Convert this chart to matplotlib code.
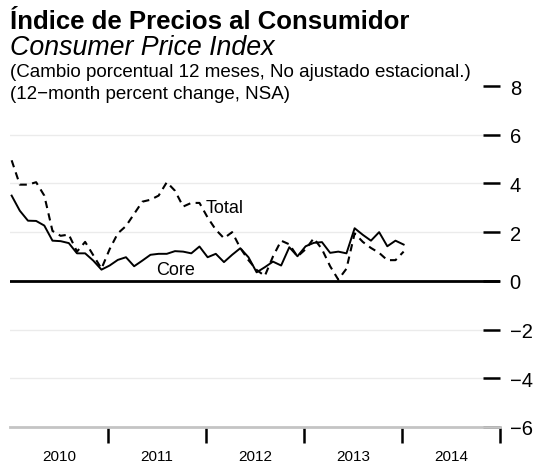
import numpy as np
import matplotlib.pyplot as plt

plt.rcParams['font.family'] = ['Liberation Sans', 'DejaVu Sans']

# monthly 12-month % change, Jan 2010 .. Jan 2014
start_year = 2010
core = [3.5, 2.88, 2.47, 2.46, 2.27, 1.65, 1.63, 1.55, 1.13, 1.13,
        0.83, 0.46, 0.63, 0.86, 0.97, 0.60, 0.83, 1.07, 1.11, 1.11,
        1.22, 1.20, 1.13, 1.41, 0.97, 1.11, 0.77, 1.07, 1.34, 0.97,
        0.35, 0.56, 0.79, 0.63, 1.38, 1.01, 1.42, 1.56, 1.59, 1.15,
        1.20, 1.13, 2.16, 1.89, 1.65, 2.0, 1.42, 1.65, 1.49]
total = [4.95, 3.95, 3.95, 4.05, 3.5, 2.05, 1.85, 1.9, 1.2, 1.6,
         1.05, 0.5, 1.3, 1.95, 2.25, 2.75, 3.25, 3.33, 3.5, 4.05,
         3.7, 3.05, 3.2, 3.2, 2.6, 2.1, 1.75, 2.0, 1.35, 0.85,
         0.45, 0.2, 1.0, 1.65, 1.5, 1.0, 1.3, 1.75, 1.3, 0.6,
         0.05, 0.5, 1.95, 1.6, 1.35, 1.15, 0.85, 0.85, 1.2]
years = ['2010', '2011', '2012', '2013', '2014']
y_ticks = [-6, -4, -2, 0, 2, 4, 6, 8]
grid_levels = [-4, -2, 2, 4, 6]

x = start_year + (np.arange(len(core)) + 0.2) / 12

fig = plt.figure(figsize=(5.37, 4.64), dpi=100)
ax = fig.add_axes([10 / 537, 36 / 464, 490 / 537, 341 / 464])

for g in grid_levels:
    ax.axhline(g, color='#ebebeb', lw=1, zorder=0)
ax.axhline(0, color='black', lw=2, zorder=1)

ax.plot(x, core, color='black', lw=1.4, zorder=3)
ax.plot(x, total, color='black', lw=1.5, linestyle=(0, (3.5, 2.6)), zorder=3)

ax.text(2012.0, 3.03, 'Total', fontsize=13, va='center', ha='left')
ax.text(2011.49, 0.45, 'Core', fontsize=13, va='center', ha='left')

ax.set_xlim(2010, 2015)
ax.set_ylim(-6, 8)

for s in ['top', 'left', 'right']:
    ax.spines[s].set_visible(False)
ax.spines['bottom'].set_color('#c4c4c4')
ax.spines['bottom'].set_linewidth(2)

ax.yaxis.tick_right()
ax.set_yticks(y_ticks)
ax.set_yticklabels([str(v).replace('-', '\u2212') for v in y_ticks])
ax.tick_params(axis='y', direction='in', length=12, width=1.8, pad=7,
               labelsize=14.5, color='black')

ax.set_xticks([2011, 2012, 2013, 2014, 2015])
ax.set_xticklabels([])
ax.set_xticks([2010.5, 2011.5, 2012.5, 2013.5, 2014.5], minor=True)
ax.set_xticklabels(years, minor=True)
ax.tick_params(axis='x', which='major', direction='out', length=11.5,
               width=1.8, color='black')
ax.tick_params(axis='x', which='minor', length=0, pad=15.5, labelsize=11)

fig.text(10 / 537, 1 - 29 / 464, '\u00cdndice de Precios al Consumidor',
         fontsize=18.5, fontweight='bold', va='baseline')
fig.text(10 / 537, 1 - 55 / 464, 'Consumer Price Index',
         fontsize=19.3, style='italic', va='baseline')
fig.text(10 / 537, 1 - 77 / 464,
         '(Cambio porcentual 12 meses, No ajustado estacional.)',
         fontsize=13.5, va='baseline')
fig.text(10 / 537, 1 - 99 / 464, '(12\u2212month percent change, NSA)',
         fontsize=13.5, va='baseline')

fig.savefig('out.png', dpi=100)
